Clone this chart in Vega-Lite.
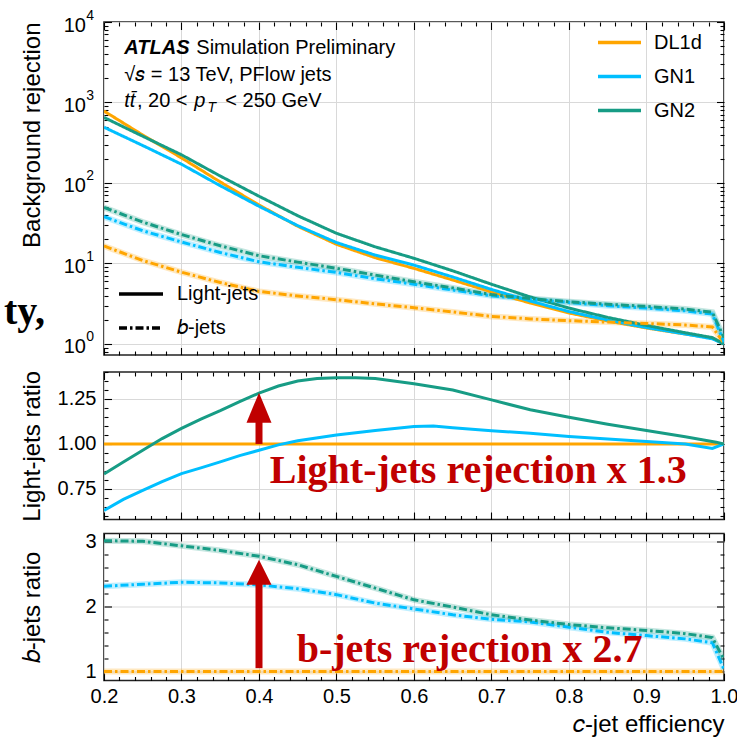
{
  "$schema": "https://vega.github.io/schema/vega-lite/v6.json",
  "background": "white",
  "padding": {"left": 3, "top": 7, "right": 5, "bottom": 3},
  "datasets": {
    "top": [
      {"eff":0.2,"tagger":"DL1d","flavour":"Light-jets","rej":783},{"eff":0.25,"tagger":"DL1d","flavour":"Light-jets","rej":394},{"eff":0.3,"tagger":"DL1d","flavour":"Light-jets","rej":205},{"eff":0.35,"tagger":"DL1d","flavour":"Light-jets","rej":103},{"eff":0.4,"tagger":"DL1d","flavour":"Light-jets","rej":53.3},{"eff":0.45,"tagger":"DL1d","flavour":"Light-jets","rej":29.0},{"eff":0.5,"tagger":"DL1d","flavour":"Light-jets","rej":17.3},{"eff":0.55,"tagger":"DL1d","flavour":"Light-jets","rej":11.8},{"eff":0.6,"tagger":"DL1d","flavour":"Light-jets","rej":8.7},{"eff":0.65,"tagger":"DL1d","flavour":"Light-jets","rej":6.24},{"eff":0.7,"tagger":"DL1d","flavour":"Light-jets","rej":4.43},{"eff":0.75,"tagger":"DL1d","flavour":"Light-jets","rej":3.23},{"eff":0.8,"tagger":"DL1d","flavour":"Light-jets","rej":2.43},{"eff":0.85,"tagger":"DL1d","flavour":"Light-jets","rej":1.93},{"eff":0.9,"tagger":"DL1d","flavour":"Light-jets","rej":1.58},{"eff":0.95,"tagger":"DL1d","flavour":"Light-jets","rej":1.33},{"eff":0.985,"tagger":"DL1d","flavour":"Light-jets","rej":1.19},{"eff":1.0,"tagger":"DL1d","flavour":"Light-jets","rej":1.0},
      {"eff":0.2,"tagger":"GN1","flavour":"Light-jets","rej":493},{"eff":0.25,"tagger":"GN1","flavour":"Light-jets","rej":292},{"eff":0.3,"tagger":"GN1","flavour":"Light-jets","rej":171},{"eff":0.35,"tagger":"GN1","flavour":"Light-jets","rej":92.5},{"eff":0.4,"tagger":"GN1","flavour":"Light-jets","rej":51.4},{"eff":0.45,"tagger":"GN1","flavour":"Light-jets","rej":29.5},{"eff":0.5,"tagger":"GN1","flavour":"Light-jets","rej":18.2},{"eff":0.55,"tagger":"GN1","flavour":"Light-jets","rej":12.7},{"eff":0.6,"tagger":"GN1","flavour":"Light-jets","rej":9.55},{"eff":0.65,"tagger":"GN1","flavour":"Light-jets","rej":6.8},{"eff":0.7,"tagger":"GN1","flavour":"Light-jets","rej":4.76},{"eff":0.75,"tagger":"GN1","flavour":"Light-jets","rej":3.42},{"eff":0.8,"tagger":"GN1","flavour":"Light-jets","rej":2.53},{"eff":0.85,"tagger":"GN1","flavour":"Light-jets","rej":1.98},{"eff":0.9,"tagger":"GN1","flavour":"Light-jets","rej":1.6},{"eff":0.95,"tagger":"GN1","flavour":"Light-jets","rej":1.33},{"eff":0.985,"tagger":"GN1","flavour":"Light-jets","rej":1.16},{"eff":1.0,"tagger":"GN1","flavour":"Light-jets","rej":1.0},
      {"eff":0.2,"tagger":"GN2","flavour":"Light-jets","rej":652},{"eff":0.25,"tagger":"GN2","flavour":"Light-jets","rej":381},{"eff":0.3,"tagger":"GN2","flavour":"Light-jets","rej":224},{"eff":0.35,"tagger":"GN2","flavour":"Light-jets","rej":122},{"eff":0.4,"tagger":"GN2","flavour":"Light-jets","rej":68.5},{"eff":0.45,"tagger":"GN2","flavour":"Light-jets","rej":39.2},{"eff":0.5,"tagger":"GN2","flavour":"Light-jets","rej":23.7},{"eff":0.55,"tagger":"GN2","flavour":"Light-jets","rej":16.1},{"eff":0.6,"tagger":"GN2","flavour":"Light-jets","rej":11.6},{"eff":0.65,"tagger":"GN2","flavour":"Light-jets","rej":8.11},{"eff":0.7,"tagger":"GN2","flavour":"Light-jets","rej":5.52},{"eff":0.75,"tagger":"GN2","flavour":"Light-jets","rej":3.84},{"eff":0.8,"tagger":"GN2","flavour":"Light-jets","rej":2.79},{"eff":0.85,"tagger":"GN2","flavour":"Light-jets","rej":2.14},{"eff":0.9,"tagger":"GN2","flavour":"Light-jets","rej":1.7},{"eff":0.95,"tagger":"GN2","flavour":"Light-jets","rej":1.38},{"eff":0.985,"tagger":"GN2","flavour":"Light-jets","rej":1.2},{"eff":1.0,"tagger":"GN2","flavour":"Light-jets","rej":1.0},
      {"eff":0.2,"tagger":"DL1d","flavour":"b-jets","rej":16.5},{"eff":0.25,"tagger":"DL1d","flavour":"b-jets","rej":10.9},{"eff":0.3,"tagger":"DL1d","flavour":"b-jets","rej":7.8},{"eff":0.35,"tagger":"DL1d","flavour":"b-jets","rej":5.8},{"eff":0.4,"tagger":"DL1d","flavour":"b-jets","rej":4.5},{"eff":0.45,"tagger":"DL1d","flavour":"b-jets","rej":3.95},{"eff":0.5,"tagger":"DL1d","flavour":"b-jets","rej":3.55},{"eff":0.55,"tagger":"DL1d","flavour":"b-jets","rej":3.15},{"eff":0.6,"tagger":"DL1d","flavour":"b-jets","rej":2.82},{"eff":0.65,"tagger":"DL1d","flavour":"b-jets","rej":2.5},{"eff":0.7,"tagger":"DL1d","flavour":"b-jets","rej":2.2},{"eff":0.75,"tagger":"DL1d","flavour":"b-jets","rej":2.05},{"eff":0.8,"tagger":"DL1d","flavour":"b-jets","rej":1.95},{"eff":0.85,"tagger":"DL1d","flavour":"b-jets","rej":1.87},{"eff":0.9,"tagger":"DL1d","flavour":"b-jets","rej":1.8},{"eff":0.95,"tagger":"DL1d","flavour":"b-jets","rej":1.72},{"eff":0.985,"tagger":"DL1d","flavour":"b-jets","rej":1.63},{"eff":1.0,"tagger":"DL1d","flavour":"b-jets","rej":1.02},
      {"eff":0.2,"tagger":"GN1","flavour":"b-jets","rej":38.1},{"eff":0.25,"tagger":"GN1","flavour":"b-jets","rej":25.5},{"eff":0.3,"tagger":"GN1","flavour":"b-jets","rej":18.5},{"eff":0.35,"tagger":"GN1","flavour":"b-jets","rej":13.7},{"eff":0.4,"tagger":"GN1","flavour":"b-jets","rej":10.5},{"eff":0.45,"tagger":"GN1","flavour":"b-jets","rej":8.97},{"eff":0.5,"tagger":"GN1","flavour":"b-jets","rej":7.74},{"eff":0.55,"tagger":"GN1","flavour":"b-jets","rej":6.46},{"eff":0.6,"tagger":"GN1","flavour":"b-jets","rej":5.53},{"eff":0.65,"tagger":"GN1","flavour":"b-jets","rej":4.68},{"eff":0.7,"tagger":"GN1","flavour":"b-jets","rej":3.96},{"eff":0.75,"tagger":"GN1","flavour":"b-jets","rej":3.61},{"eff":0.8,"tagger":"GN1","flavour":"b-jets","rej":3.28},{"eff":0.85,"tagger":"GN1","flavour":"b-jets","rej":2.99},{"eff":0.9,"tagger":"GN1","flavour":"b-jets","rej":2.79},{"eff":0.95,"tagger":"GN1","flavour":"b-jets","rej":2.58},{"eff":0.985,"tagger":"GN1","flavour":"b-jets","rej":2.35},{"eff":1.0,"tagger":"GN1","flavour":"b-jets","rej":1.05},
      {"eff":0.2,"tagger":"GN2","flavour":"b-jets","rej":49.7},{"eff":0.25,"tagger":"GN2","flavour":"b-jets","rej":32.7},{"eff":0.3,"tagger":"GN2","flavour":"b-jets","rej":22.9},{"eff":0.35,"tagger":"GN2","flavour":"b-jets","rej":16.6},{"eff":0.4,"tagger":"GN2","flavour":"b-jets","rej":12.5},{"eff":0.45,"tagger":"GN2","flavour":"b-jets","rej":10.4},{"eff":0.5,"tagger":"GN2","flavour":"b-jets","rej":8.73},{"eff":0.55,"tagger":"GN2","flavour":"b-jets","rej":7.18},{"eff":0.6,"tagger":"GN2","flavour":"b-jets","rej":5.92},{"eff":0.65,"tagger":"GN2","flavour":"b-jets","rej":4.98},{"eff":0.7,"tagger":"GN2","flavour":"b-jets","rej":4.11},{"eff":0.75,"tagger":"GN2","flavour":"b-jets","rej":3.67},{"eff":0.8,"tagger":"GN2","flavour":"b-jets","rej":3.35},{"eff":0.85,"tagger":"GN2","flavour":"b-jets","rej":3.12},{"eff":0.9,"tagger":"GN2","flavour":"b-jets","rej":2.93},{"eff":0.95,"tagger":"GN2","flavour":"b-jets","rej":2.72},{"eff":0.985,"tagger":"GN2","flavour":"b-jets","rej":2.48},{"eff":1.0,"tagger":"GN2","flavour":"b-jets","rej":1.2}
    ],
    "light": [
      {"eff":0.2,"tagger":"DL1d","ratio":1.0},{"eff":1.0,"tagger":"DL1d","ratio":1.0},
      {"eff":0.2,"tagger":"GN1","ratio":0.63},{"eff":0.225,"tagger":"GN1","ratio":0.692},{"eff":0.25,"tagger":"GN1","ratio":0.742},{"eff":0.275,"tagger":"GN1","ratio":0.79},{"eff":0.3,"tagger":"GN1","ratio":0.835},{"eff":0.325,"tagger":"GN1","ratio":0.867},{"eff":0.35,"tagger":"GN1","ratio":0.9},{"eff":0.375,"tagger":"GN1","ratio":0.935},{"eff":0.4,"tagger":"GN1","ratio":0.965},{"eff":0.425,"tagger":"GN1","ratio":0.995},{"eff":0.45,"tagger":"GN1","ratio":1.018},{"eff":0.5,"tagger":"GN1","ratio":1.05},{"eff":0.55,"tagger":"GN1","ratio":1.075},{"eff":0.6,"tagger":"GN1","ratio":1.097},{"eff":0.625,"tagger":"GN1","ratio":1.1},{"eff":0.65,"tagger":"GN1","ratio":1.09},{"eff":0.7,"tagger":"GN1","ratio":1.074},{"eff":0.75,"tagger":"GN1","ratio":1.059},{"eff":0.8,"tagger":"GN1","ratio":1.042},{"eff":0.85,"tagger":"GN1","ratio":1.028},{"eff":0.9,"tagger":"GN1","ratio":1.013},{"eff":0.95,"tagger":"GN1","ratio":1.0},{"eff":0.985,"tagger":"GN1","ratio":0.975},{"eff":1.0,"tagger":"GN1","ratio":1.0},
      {"eff":0.2,"tagger":"GN2","ratio":0.833},{"eff":0.225,"tagger":"GN2","ratio":0.9},{"eff":0.25,"tagger":"GN2","ratio":0.965},{"eff":0.275,"tagger":"GN2","ratio":1.03},{"eff":0.3,"tagger":"GN2","ratio":1.087},{"eff":0.325,"tagger":"GN2","ratio":1.138},{"eff":0.35,"tagger":"GN2","ratio":1.185},{"eff":0.375,"tagger":"GN2","ratio":1.235},{"eff":0.4,"tagger":"GN2","ratio":1.283},{"eff":0.425,"tagger":"GN2","ratio":1.322},{"eff":0.45,"tagger":"GN2","ratio":1.35},{"eff":0.475,"tagger":"GN2","ratio":1.364},{"eff":0.5,"tagger":"GN2","ratio":1.368},{"eff":0.525,"tagger":"GN2","ratio":1.368},{"eff":0.55,"tagger":"GN2","ratio":1.364},{"eff":0.6,"tagger":"GN2","ratio":1.335},{"eff":0.65,"tagger":"GN2","ratio":1.3},{"eff":0.7,"tagger":"GN2","ratio":1.245},{"eff":0.75,"tagger":"GN2","ratio":1.19},{"eff":0.8,"tagger":"GN2","ratio":1.148},{"eff":0.85,"tagger":"GN2","ratio":1.11},{"eff":0.9,"tagger":"GN2","ratio":1.075},{"eff":0.95,"tagger":"GN2","ratio":1.04},{"eff":0.99,"tagger":"GN2","ratio":1.01},{"eff":1.0,"tagger":"GN2","ratio":1.0}
    ],
    "bratio": [
      {"eff":0.2,"tagger":"DL1d","ratio":1.0},{"eff":1.0,"tagger":"DL1d","ratio":1.0},
      {"eff":0.2,"tagger":"GN1","ratio":2.31},{"eff":0.25,"tagger":"GN1","ratio":2.34},{"eff":0.3,"tagger":"GN1","ratio":2.37},{"eff":0.35,"tagger":"GN1","ratio":2.36},{"eff":0.4,"tagger":"GN1","ratio":2.33},{"eff":0.45,"tagger":"GN1","ratio":2.27},{"eff":0.5,"tagger":"GN1","ratio":2.18},{"eff":0.55,"tagger":"GN1","ratio":2.05},{"eff":0.6,"tagger":"GN1","ratio":1.96},{"eff":0.65,"tagger":"GN1","ratio":1.87},{"eff":0.7,"tagger":"GN1","ratio":1.8},{"eff":0.75,"tagger":"GN1","ratio":1.76},{"eff":0.8,"tagger":"GN1","ratio":1.68},{"eff":0.85,"tagger":"GN1","ratio":1.6},{"eff":0.9,"tagger":"GN1","ratio":1.55},{"eff":0.95,"tagger":"GN1","ratio":1.5},{"eff":0.985,"tagger":"GN1","ratio":1.44},{"eff":1.0,"tagger":"GN1","ratio":1.03},
      {"eff":0.2,"tagger":"GN2","ratio":3.01},{"eff":0.25,"tagger":"GN2","ratio":3.0},{"eff":0.3,"tagger":"GN2","ratio":2.93},{"eff":0.35,"tagger":"GN2","ratio":2.86},{"eff":0.4,"tagger":"GN2","ratio":2.77},{"eff":0.45,"tagger":"GN2","ratio":2.64},{"eff":0.5,"tagger":"GN2","ratio":2.46},{"eff":0.55,"tagger":"GN2","ratio":2.28},{"eff":0.6,"tagger":"GN2","ratio":2.1},{"eff":0.65,"tagger":"GN2","ratio":1.99},{"eff":0.7,"tagger":"GN2","ratio":1.87},{"eff":0.75,"tagger":"GN2","ratio":1.79},{"eff":0.8,"tagger":"GN2","ratio":1.72},{"eff":0.85,"tagger":"GN2","ratio":1.67},{"eff":0.9,"tagger":"GN2","ratio":1.63},{"eff":0.95,"tagger":"GN2","ratio":1.58},{"eff":0.985,"tagger":"GN2","ratio":1.52},{"eff":1.0,"tagger":"GN2","ratio":1.18}
    ]
  },
  "bounds": "flush",
  "spacing": 17,
  "resolve": {"scale": {"x": "independent", "y": "independent", "color": "independent", "strokeDash": "independent"}},
  "vconcat": [
    {
      "width": 620,
      "height": 333,
      "resolve": {"axis": {"x": "independent", "y": "independent"}, "scale": {"color": "independent"}},
      "layer": [
        {
          "data": {"name": "top"},
          "transform": [{"filter": "datum.flavour == 'b-jets'"}],
          "mark": {"type": "line", "strokeWidth": 6, "opacity": 0.25, "clip": true},
          "encoding": {
            "x": {"field": "eff", "type": "quantitative", "scale": {"domain": [0.2, 1.0], "nice": false, "zero": false}, "axis": null},
            "y": {"field": "rej", "type": "quantitative", "scale": {"type": "log", "domain": [0.73, 10000], "nice": false}, "axis": null},
            "color": {"field": "tagger", "type": "nominal", "scale": {"domain": ["DL1d", "GN1", "GN2"], "range": ["#FFA500", "#00BFFF", "#179C85"]}, "legend": null},
            "detail": {"field": "flavour"}
          }
        },
        {
          "data": {"name": "top"},
          "mark": {"type": "line", "strokeWidth": 3, "clip": true},
          "encoding": {
            "x": {"field": "eff", "type": "quantitative", "scale": {"domain": [0.2, 1.0], "nice": false, "zero": false},
                  "axis": {"orient": "bottom", "values": [0.2,0.3,0.4,0.5,0.6,0.7,0.8,0.9,1.0], "labels": false, "ticks": false, "tickSize": 0, "grid": true, "title": null}},
            "y": {"field": "rej", "type": "quantitative", "scale": {"type": "log", "domain": [0.73, 10000], "nice": false},
                  "axis": {"orient": "left", "values": [1,10,100,1000,10000], "labelExpr": "'10'", "labelPadding": 18.5, "labelOffset": 3, "ticks": false, "tickSize": 0, "grid": true, "title": "Background rejection", "titleAnchor": "end", "titlePadding": 19}},
            "color": {"field": "tagger", "type": "nominal", "scale": {"domain": ["DL1d", "GN1", "GN2"], "range": ["#FFA500", "#00BFFF", "#179C85"]},
                      "legend": {"orient": "none", "legendX": 492, "legendY": -3, "title": null, "symbolType": "stroke", "symbolSize": 1849, "symbolStrokeWidth": 3.5, "symbolOpacity": 1, "labelOffset": 11, "rowPadding": 0}},
            "strokeDash": {"field": "flavour", "type": "nominal", "scale": {"domain": ["Light-jets", "b-jets"], "range": [[1, 0], [8, 3, 2.5, 3]]},
                      "legend": {"orient": "none", "legendX": 13, "legendY": 248, "title": null, "symbolType": "stroke", "symbolSize": 1936, "symbolStrokeWidth": 3.5, "symbolStrokeColor": "#000", "symbolOpacity": 1, "labelOffset": 12, "rowPadding": 0, "labelExpr": "datum.label == 'b-jets' ? '𝑏-jets' : datum.label"}}
          }
        },
        {
          "data": {"name": "top"},
          "mark": {"type": "point", "opacity": 0},
          "encoding": {
            "x": {"field": "eff", "type": "quantitative", "axis": {"orient": "bottom", "values": [0.2,0.3,0.4,0.5,0.6,0.7,0.8,0.9,1.0], "labels": false, "tickSize": -7.5, "title": null}},
            "y": {"field": "rej", "type": "quantitative", "axis": {"orient": "left", "values": [1,10,100,1000,10000], "labels": false, "tickSize": -7.5, "title": null}}
          }
        },
        {
          "data": {"name": "top"},
          "mark": {"type": "point", "opacity": 0},
          "encoding": {
            "x": {"field": "eff", "type": "quantitative", "axis": {"orient": "bottom", "values": [0.22,0.24,0.26,0.28,0.32,0.34,0.36,0.38,0.42,0.44,0.46,0.48,0.52,0.54,0.56,0.58,0.62,0.64,0.66,0.68,0.72,0.74,0.76,0.78,0.82,0.84,0.86,0.88,0.92,0.94,0.96,0.98], "labels": false, "tickSize": -4, "title": null}},
            "y": {"field": "rej", "type": "quantitative", "axis": {"orient": "left", "values": [0.8,0.9,2,3,4,5,6,7,8,9,20,30,40,50,60,70,80,90,200,300,400,500,600,700,800,900,2000,3000,4000,5000,6000,7000,8000,9000], "labels": false, "tickSize": -4, "title": null}}
          }
        },
        {
          "data": {"name": "top"},
          "mark": {"type": "point", "opacity": 0},
          "encoding": {
            "x": {"field": "eff", "type": "quantitative", "axis": {"orient": "top", "values": [0.2,0.3,0.4,0.5,0.6,0.7,0.8,0.9,1.0], "labels": false, "tickSize": -7.5, "title": null}},
            "y": {"field": "rej", "type": "quantitative", "axis": {"orient": "right", "values": [1,10,100,1000,10000], "labels": false, "tickSize": -7.5, "title": null}}
          }
        },
        {
          "data": {"name": "top"},
          "mark": {"type": "point", "opacity": 0},
          "encoding": {
            "x": {"field": "eff", "type": "quantitative", "axis": {"orient": "top", "values": [0.22,0.24,0.26,0.28,0.32,0.34,0.36,0.38,0.42,0.44,0.46,0.48,0.52,0.54,0.56,0.58,0.62,0.64,0.66,0.68,0.72,0.74,0.76,0.78,0.82,0.84,0.86,0.88,0.92,0.94,0.96,0.98], "labels": false, "tickSize": -4, "title": null}},
            "y": {"field": "rej", "type": "quantitative", "axis": {"orient": "right", "values": [0.8,0.9,2,3,4,5,6,7,8,9,20,30,40,50,60,70,80,90,200,300,400,500,600,700,800,900,2000,3000,4000,5000,6000,7000,8000,9000], "labels": false, "tickSize": -4, "title": null}}
          }
        },
        {
          "data": {"name": "top"},
          "mark": {"type": "point", "opacity": 0},
          "encoding": {
            "x": {"field": "eff", "type": "quantitative", "axis": null},
            "y": {"field": "rej", "type": "quantitative", "axis": {"orient": "left", "values": [1,10,100,1000,10000], "labelExpr": "'' + round(log(datum.value)/LN10)", "labelFontSize": 14, "labelPadding": 10.5, "labelOffset": -7, "ticks": false, "tickSize": 0, "title": null}}
          }
        },
        {
          "data": {"values": [{}]},
          "mark": {"type": "text", "text": "ATLAS", "fontSize": 20, "fontStyle": "italic", "fontWeight": "bold", "align": "left", "baseline": "alphabetic", "color": "#000"},
          "encoding": {"x": {"datum": 0.2262, "type": "quantitative", "axis": null}, "y": {"datum": 4000, "type": "quantitative", "axis": null}}
        },
        {
          "data": {"values": [{}]},
          "mark": {"type": "text", "text": "Simulation Preliminary", "fontSize": 20, "align": "left", "baseline": "alphabetic", "color": "#000"},
          "encoding": {"x": {"datum": 0.3191, "type": "quantitative", "axis": null}, "y": {"datum": 4000, "type": "quantitative", "axis": null}}
        },
        {
          "data": {"values": [{}]},
          "mark": {"type": "text", "text": "√𝑠 = 13 TeV, PFlow jets", "fontSize": 20, "align": "left", "baseline": "alphabetic", "color": "#000"},
          "encoding": {"x": {"datum": 0.2262, "type": "quantitative", "axis": null}, "y": {"datum": 1849, "type": "quantitative", "axis": null}}
        },
        {
          "data": {"values": [{}]},
          "mark": {"type": "text", "text": "tt̄", "fontSize": 20, "fontStyle": "italic", "align": "left", "baseline": "alphabetic", "color": "#000"},
          "encoding": {"x": {"datum": 0.2262, "type": "quantitative", "axis": null}, "y": {"datum": 879, "type": "quantitative", "axis": null}}
        },
        {
          "data": {"values": [{}]},
          "mark": {"type": "text", "text": ", 20 <", "fontSize": 20, "align": "left", "baseline": "alphabetic", "color": "#000"},
          "encoding": {"x": {"datum": 0.2425, "type": "quantitative", "axis": null}, "y": {"datum": 879, "type": "quantitative", "axis": null}}
        },
        {
          "data": {"values": [{}]},
          "mark": {"type": "text", "text": "p", "fontSize": 20, "fontStyle": "italic", "align": "left", "baseline": "alphabetic", "color": "#000"},
          "encoding": {"x": {"datum": 0.3165, "type": "quantitative", "axis": null}, "y": {"datum": 879, "type": "quantitative", "axis": null}}
        },
        {
          "data": {"values": [{}]},
          "mark": {"type": "text", "text": "T", "fontSize": 14, "fontStyle": "italic", "align": "left", "baseline": "alphabetic", "color": "#000"},
          "encoding": {"x": {"datum": 0.3335, "type": "quantitative", "axis": null}, "y": {"datum": 762, "type": "quantitative", "axis": null}}
        },
        {
          "data": {"values": [{}]},
          "mark": {"type": "text", "text": "< 250 GeV", "fontSize": 20, "align": "left", "baseline": "alphabetic", "color": "#000"},
          "encoding": {"x": {"datum": 0.3565, "type": "quantitative", "axis": null}, "y": {"datum": 879, "type": "quantitative", "axis": null}}
        },
        {
          "data": {"values": [{}]},
          "mark": {"type": "text", "text": "ty,", "font": "Liberation Serif", "fontSize": 40, "fontWeight": "bold", "align": "left", "baseline": "alphabetic", "color": "#000", "dx": -100},
          "encoding": {"x": {"datum": 0.2, "type": "quantitative", "axis": null}, "y": {"datum": 1.77, "type": "quantitative", "axis": null}}
        }
      ]
    },
    {
      "bounds": "flush",
      "spacing": 13.5,
      "resolve": {"scale": {"x": "independent", "y": "independent", "color": "independent", "strokeDash": "independent"}},
      "vconcat": [
        {
          "width": 620,
          "height": 147.5,
          "resolve": {"axis": {"x": "independent", "y": "independent"}},
          "layer": [
            {
              "data": {"name": "light"},
              "mark": {"type": "line", "strokeWidth": 3, "clip": true},
              "encoding": {
                "x": {"field": "eff", "type": "quantitative", "scale": {"domain": [0.2, 1.0], "nice": false, "zero": false},
                      "axis": {"orient": "bottom", "values": [0.2,0.3,0.4,0.5,0.6,0.7,0.8,0.9,1.0], "labels": false, "ticks": false, "tickSize": 0, "grid": true, "title": null}},
                "y": {"field": "ratio", "type": "quantitative", "scale": {"domain": [0.58, 1.4], "nice": false, "zero": false},
                      "axis": {"orient": "left", "values": [0.75, 1.0, 1.25], "format": ".2f", "labelPadding": 8, "ticks": false, "tickSize": 0, "grid": true, "title": "Light-jets ratio", "titleAnchor": "middle", "titlePadding": 13}},
                "color": {"field": "tagger", "type": "nominal", "scale": {"domain": ["DL1d", "GN1", "GN2"], "range": ["#FFA500", "#00BFFF", "#179C85"]}, "legend": null}
              }
            },
            {
              "data": {"name": "light"},
              "mark": {"type": "point", "opacity": 0},
              "encoding": {
                "x": {"field": "eff", "type": "quantitative", "axis": {"orient": "bottom", "values": [0.2,0.3,0.4,0.5,0.6,0.7,0.8,0.9,1.0], "labels": false, "tickSize": -7.5, "title": null}},
                "y": {"field": "ratio", "type": "quantitative", "axis": {"orient": "left", "values": [0.75, 1.0, 1.25], "labels": false, "tickSize": -7.5, "title": null}}
              }
            },
            {
              "data": {"name": "light"},
              "mark": {"type": "point", "opacity": 0},
              "encoding": {
                "x": {"field": "eff", "type": "quantitative", "axis": {"orient": "bottom", "values": [0.22,0.24,0.26,0.28,0.32,0.34,0.36,0.38,0.42,0.44,0.46,0.48,0.52,0.54,0.56,0.58,0.62,0.64,0.66,0.68,0.72,0.74,0.76,0.78,0.82,0.84,0.86,0.88,0.92,0.94,0.96,0.98], "labels": false, "tickSize": -4, "title": null}},
                "y": {"field": "ratio", "type": "quantitative", "axis": {"orient": "left", "values": [0.6,0.65,0.7,0.8,0.85,0.9,0.95,1.05,1.1,1.15,1.2,1.3,1.35,1.4], "labels": false, "tickSize": -4, "title": null}}
              }
            },
            {
              "data": {"name": "light"},
              "mark": {"type": "point", "opacity": 0},
              "encoding": {
                "x": {"field": "eff", "type": "quantitative", "axis": {"orient": "top", "values": [0.2,0.3,0.4,0.5,0.6,0.7,0.8,0.9,1.0], "labels": false, "tickSize": -7.5, "title": null}},
                "y": {"field": "ratio", "type": "quantitative", "axis": {"orient": "right", "values": [0.75, 1.0, 1.25], "labels": false, "tickSize": -7.5, "title": null}}
              }
            },
            {
              "data": {"name": "light"},
              "mark": {"type": "point", "opacity": 0},
              "encoding": {
                "x": {"field": "eff", "type": "quantitative", "axis": {"orient": "top", "values": [0.22,0.24,0.26,0.28,0.32,0.34,0.36,0.38,0.42,0.44,0.46,0.48,0.52,0.54,0.56,0.58,0.62,0.64,0.66,0.68,0.72,0.74,0.76,0.78,0.82,0.84,0.86,0.88,0.92,0.94,0.96,0.98], "labels": false, "tickSize": -4, "title": null}},
                "y": {"field": "ratio", "type": "quantitative", "axis": {"orient": "right", "values": [0.6,0.65,0.7,0.8,0.85,0.9,0.95,1.05,1.1,1.15,1.2,1.3,1.35,1.4], "labels": false, "tickSize": -4, "title": null}}
              }
            },
            {
              "data": {"values": [{}]},
              "mark": {"type": "rule", "color": "#C00000", "strokeWidth": 7},
              "encoding": {"x": {"datum": 0.4, "type": "quantitative", "axis": null}, "y": {"datum": 1.0, "type": "quantitative", "axis": null}, "y2": {"datum": 1.13}}
            },
            {
              "data": {"values": [{}]},
              "mark": {"type": "point", "shape": "M0,-1L-0.833,1L0.833,1Z", "size": 900, "filled": true, "color": "#C00000", "opacity": 1},
              "encoding": {"x": {"datum": 0.4, "type": "quantitative", "axis": null}, "y": {"datum": 1.2017, "type": "quantitative", "axis": null}}
            },
            {
              "data": {"values": [{}]},
              "mark": {"type": "text", "text": "Light-jets rejection x 1.3", "font": "Liberation Serif", "fontSize": 40, "fontWeight": "bold", "align": "left", "baseline": "alphabetic", "color": "#C00000"},
              "encoding": {"x": {"datum": 0.4139, "type": "quantitative", "axis": null}, "y": {"datum": 0.785, "type": "quantitative", "axis": null}}
            }
          ]
        },
        {
          "width": 620,
          "height": 147,
          "resolve": {"axis": {"x": "independent", "y": "independent"}},
          "layer": [
            {
              "data": {"name": "bratio"},
              "mark": {"type": "line", "strokeWidth": 6, "opacity": 0.25, "clip": true},
              "encoding": {
                "x": {"field": "eff", "type": "quantitative", "scale": {"domain": [0.2, 1.0], "nice": false, "zero": false}, "axis": null},
                "y": {"field": "ratio", "type": "quantitative", "scale": {"domain": [0.86, 3.12], "nice": false, "zero": false}, "axis": null},
                "color": {"field": "tagger", "type": "nominal", "scale": {"domain": ["DL1d", "GN1", "GN2"], "range": ["#FFA500", "#00BFFF", "#179C85"]}, "legend": null}
              }
            },
            {
              "data": {"name": "bratio"},
              "mark": {"type": "line", "strokeWidth": 3, "strokeDash": [8, 3, 2.5, 3], "clip": true},
              "encoding": {
                "x": {"field": "eff", "type": "quantitative", "scale": {"domain": [0.2, 1.0], "nice": false, "zero": false},
                      "axis": {"orient": "bottom", "values": [0.2,0.3,0.4,0.5,0.6,0.7,0.8,0.9,1.0], "format": ".1f", "labelPadding": 5.5, "ticks": false, "tickSize": 0, "grid": true, "title": "𝑐-jet efficiency", "titleAnchor": "end", "titlePadding": 6}},
                "y": {"field": "ratio", "type": "quantitative", "scale": {"domain": [0.86, 3.12], "nice": false, "zero": false},
                      "axis": {"orient": "left", "values": [1, 2, 3], "format": "d", "labelPadding": 8, "ticks": false, "tickSize": 0, "grid": true, "title": "𝑏-jets ratio", "titleAnchor": "middle", "titlePadding": 40.5}},
                "color": {"field": "tagger", "type": "nominal", "scale": {"domain": ["DL1d", "GN1", "GN2"], "range": ["#FFA500", "#00BFFF", "#179C85"]}, "legend": null}
              }
            },
            {
              "data": {"name": "bratio"},
              "mark": {"type": "point", "opacity": 0},
              "encoding": {
                "x": {"field": "eff", "type": "quantitative", "axis": {"orient": "bottom", "values": [0.2,0.3,0.4,0.5,0.6,0.7,0.8,0.9,1.0], "labels": false, "tickSize": -7.5, "title": null}},
                "y": {"field": "ratio", "type": "quantitative", "axis": {"orient": "left", "values": [1, 2, 3], "labels": false, "tickSize": -7.5, "title": null}}
              }
            },
            {
              "data": {"name": "bratio"},
              "mark": {"type": "point", "opacity": 0},
              "encoding": {
                "x": {"field": "eff", "type": "quantitative", "axis": {"orient": "bottom", "values": [0.22,0.24,0.26,0.28,0.32,0.34,0.36,0.38,0.42,0.44,0.46,0.48,0.52,0.54,0.56,0.58,0.62,0.64,0.66,0.68,0.72,0.74,0.76,0.78,0.82,0.84,0.86,0.88,0.92,0.94,0.96,0.98], "labels": false, "tickSize": -4, "title": null}},
                "y": {"field": "ratio", "type": "quantitative", "axis": {"orient": "left", "values": [1.2,1.4,1.6,1.8,2.2,2.4,2.6,2.8], "labels": false, "tickSize": -4, "title": null}}
              }
            },
            {
              "data": {"name": "bratio"},
              "mark": {"type": "point", "opacity": 0},
              "encoding": {
                "x": {"field": "eff", "type": "quantitative", "axis": {"orient": "top", "values": [0.2,0.3,0.4,0.5,0.6,0.7,0.8,0.9,1.0], "labels": false, "tickSize": -7.5, "title": null}},
                "y": {"field": "ratio", "type": "quantitative", "axis": {"orient": "right", "values": [1, 2, 3], "labels": false, "tickSize": -7.5, "title": null}}
              }
            },
            {
              "data": {"name": "bratio"},
              "mark": {"type": "point", "opacity": 0},
              "encoding": {
                "x": {"field": "eff", "type": "quantitative", "axis": {"orient": "top", "values": [0.22,0.24,0.26,0.28,0.32,0.34,0.36,0.38,0.42,0.44,0.46,0.48,0.52,0.54,0.56,0.58,0.62,0.64,0.66,0.68,0.72,0.74,0.76,0.78,0.82,0.84,0.86,0.88,0.92,0.94,0.96,0.98], "labels": false, "tickSize": -4, "title": null}},
                "y": {"field": "ratio", "type": "quantitative", "axis": {"orient": "right", "values": [1.2,1.4,1.6,1.8,2.2,2.4,2.6,2.8], "labels": false, "tickSize": -4, "title": null}}
              }
            },
            {
              "data": {"values": [{}]},
              "mark": {"type": "rule", "color": "#C00000", "strokeWidth": 7},
              "encoding": {"x": {"datum": 0.4, "type": "quantitative", "axis": null}, "y": {"datum": 1.05, "type": "quantitative", "axis": null}, "y2": {"datum": 2.36}}
            },
            {
              "data": {"values": [{}]},
              "mark": {"type": "point", "shape": "M0,-1L-1,1L1,1Z", "size": 625, "filled": true, "color": "#C00000", "opacity": 1},
              "encoding": {"x": {"datum": 0.4, "type": "quantitative", "axis": null}, "y": {"datum": 2.526, "type": "quantitative", "axis": null}}
            },
            {
              "data": {"values": [{}]},
              "mark": {"type": "text", "text": "b-jets rejection x 2.7", "font": "Liberation Serif", "fontSize": 40, "fontWeight": "bold", "align": "left", "baseline": "alphabetic", "color": "#C00000"},
              "encoding": {"x": {"datum": 0.4486, "type": "quantitative", "axis": null}, "y": {"datum": 1.138, "type": "quantitative", "axis": null}}
            }
          ]
        }
      ]
    }
  ],
  "config": {
    "font": "Liberation Sans",
    "view": {"stroke": "#222", "strokeWidth": 1.6},
    "axis": {"domain": false, "grid": false, "labelFont": "Liberation Sans", "labelFontSize": 20, "labelColor": "#000", "labelFlush": false, "labelOverlap": false, "tickColor": "#000", "tickWidth": 1.1, "titleFont": "Liberation Sans", "titleFontSize": 24, "titleFontWeight": "normal", "titleColor": "#000", "gridColor": "#d9d9d9", "gridWidth": 1},
    "legend": {"labelFont": "Liberation Sans", "labelFontSize": 20, "labelColor": "#000", "padding": 0}
  }
}
